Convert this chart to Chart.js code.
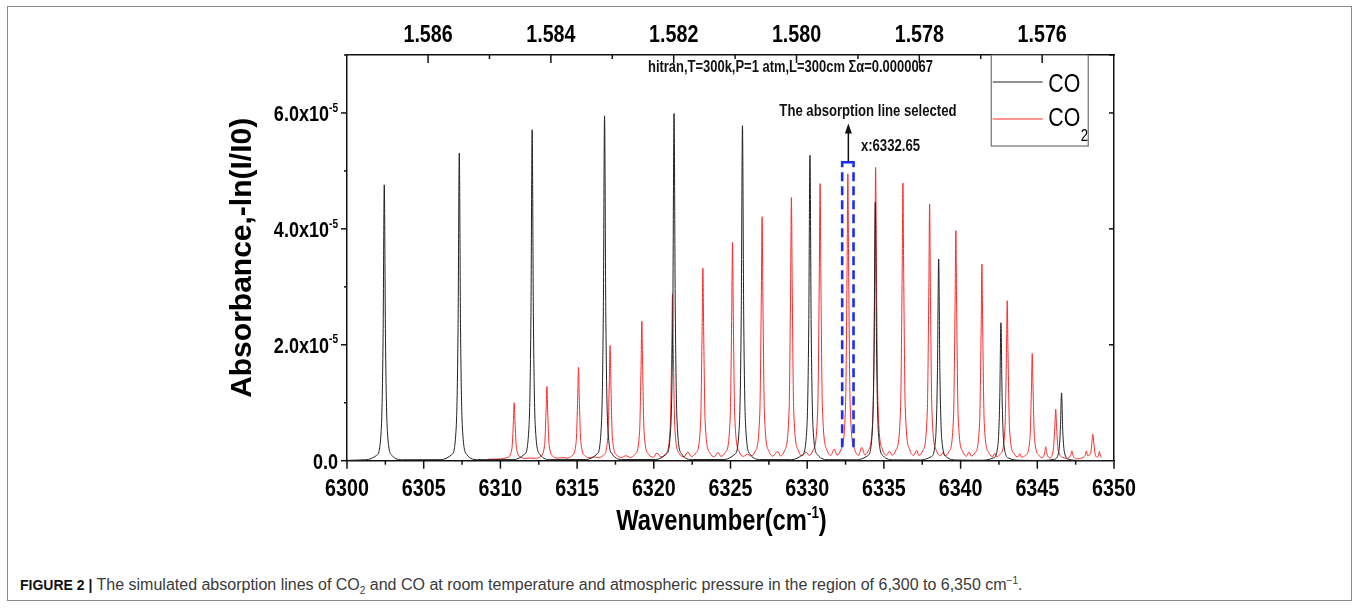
<!DOCTYPE html>
<html>
<head>
<meta charset="utf-8">
<title>Simulated absorption lines of CO2 and CO</title>
<script src="https://cdn.jsdelivr.net/npm/chart.js@4.4.0/dist/chart.umd.min.js"></script>
<style>
  html, body { margin: 0; padding: 0; background: #fff; }
  body { width: 1360px; height: 608px; position: relative; overflow: hidden; }
  #frame { position: absolute; left: 7px; top: 6px; width: 1345px; height: 595px;
           border: 1.5px solid #8a8a8a; box-sizing: border-box; }
  #c { position: absolute; left: 0; top: 0; }
  #caption { position: absolute; left: 20px; top: 576px; font: 16px "Liberation Sans", Arial, sans-serif;
             color: #3a3a3a; white-space: nowrap; }
  #caption b { color: #111; font-size: 14px; }
  #caption sub, #caption sup { font-size: 10px; line-height: 0; }
</style>
</head>
<body>
<div id="frame"></div>
<canvas id="c" width="1360" height="560"></canvas>
<div id="caption"><b>FIGURE 2 |</b> The simulated absorption lines of CO<sub>2</sub> and CO at room temperature and atmospheric pressure in the region of 6,300 to 6,350 cm<sup>−1</sup>.</div>
<script>
// ---- spectra: wavenumber (cm^-1) and absorbance (in units of 10^-6) ----

// CO lines (black)
const coWavenumber = [
  6300.00,
  6301.23, 6301.93, 6302.23, 6302.35, 6302.43, 6302.51, 6302.63, 6302.93, 6303.63,
  6306.12, 6306.82, 6307.12, 6307.24, 6307.32, 6307.40, 6307.52, 6307.82, 6308.52,
  6310.87, 6311.57, 6311.87, 6311.99, 6312.07, 6312.15, 6312.27, 6312.57, 6313.27,
  6315.59, 6316.29, 6316.59, 6316.71, 6316.79, 6316.87, 6316.99, 6317.29, 6317.99,
  6320.12, 6320.82, 6321.12, 6321.24, 6321.32, 6321.40, 6321.52, 6321.82, 6322.52,
  6324.58, 6325.28, 6325.58, 6325.70, 6325.78, 6325.86, 6325.98, 6326.28, 6326.98,
  6328.98, 6329.68, 6329.98, 6330.10, 6330.18, 6330.26, 6330.38, 6330.68, 6331.38,
  6333.24, 6333.94, 6334.24, 6334.36, 6334.44, 6334.52, 6334.64, 6334.94, 6335.64,
  6337.37, 6338.07, 6338.37, 6338.49, 6338.57, 6338.65, 6338.77, 6339.07, 6339.77,
  6341.43, 6342.13, 6342.43, 6342.55, 6342.63, 6342.71, 6342.83, 6343.13, 6343.83,
  6345.38, 6346.08, 6346.38, 6346.50, 6346.58, 6346.66, 6346.78, 6347.08, 6347.78,
  6349.20
];
const coAbsorbance = [
  0.05,
  0.16, 0.91, 5.2, 20.7, 47.6, 20.7, 5.2, 0.91, 0.16,
  0.18, 1.02, 5.8, 23.0, 53.1, 23.0, 5.8, 1.02, 0.18,
  0.19, 1.10, 6.2, 24.8, 57.1, 24.8, 6.2, 1.10, 0.19,
  0.20, 1.14, 6.5, 25.8, 59.5, 25.8, 6.5, 1.14, 0.20,
  0.20, 1.15, 6.5, 26.0, 59.9, 26.0, 6.5, 1.15, 0.20,
  0.20, 1.11, 6.3, 25.1, 57.8, 25.1, 6.3, 1.11, 0.20,
  0.18, 1.01, 5.7, 22.9, 52.7, 22.9, 5.7, 1.01, 0.18,
  0.15, 0.86, 4.9, 19.4, 44.6, 19.4, 4.9, 0.86, 0.15,
  0.12, 0.67, 3.8, 15.1, 34.8, 15.1, 3.8, 0.67, 0.12,
  0.08, 0.46, 2.6, 10.3, 23.8, 10.3, 2.6, 0.46, 0.08,
  0.04, 0.22, 1.3, 5.1, 11.7, 5.1, 1.3, 0.22, 0.04,
  0.03
];

// CO2 lines (red)
const co2Wavenumber = [
  6309.20, 6310.00,
  6310.45, 6310.75, 6310.85, 6310.90, 6310.95, 6311.05, 6311.35,
  6311.65, 6311.97, 6312.28,
  6312.58, 6312.88, 6312.98, 6313.03, 6313.08, 6313.18, 6313.48,
  6313.78, 6314.06, 6314.34,
  6314.64, 6314.94, 6315.04, 6315.09, 6315.14, 6315.24, 6315.54,
  6315.84, 6316.12, 6316.40,
  6316.70, 6317.00, 6317.10, 6317.15, 6317.20, 6317.30, 6317.60,
  6317.90, 6318.18, 6318.47,
  6318.77, 6319.07, 6319.17, 6319.22, 6319.27, 6319.37, 6319.67,
  6319.97, 6320.20, 6320.47,
  6320.77, 6321.07, 6321.17, 6321.22, 6321.27, 6321.37, 6321.67,
  6321.97, 6322.22, 6322.45,
  6322.75, 6323.05, 6323.15, 6323.20, 6323.25, 6323.35, 6323.65,
  6323.95, 6324.18, 6324.38,
  6324.68, 6324.98, 6325.08, 6325.13, 6325.18, 6325.28, 6325.58,
  6325.83, 6326.10, 6326.36,
  6326.61, 6326.91, 6327.01, 6327.06, 6327.11, 6327.21, 6327.51,
  6327.76, 6328.08, 6328.27,
  6328.52, 6328.82, 6328.92, 6328.97, 6329.02, 6329.12, 6329.42,
  6329.67, 6329.92, 6330.14,
  6330.39, 6330.69, 6330.79, 6330.84, 6330.89, 6330.99, 6331.29,
  6331.54, 6331.76, 6331.95,
  6332.20, 6332.50, 6332.60, 6332.65, 6332.70, 6332.80, 6333.10,
  6333.35, 6333.56, 6333.76,
  6334.01, 6334.31, 6334.41, 6334.46, 6334.51, 6334.61, 6334.91,
  6335.16, 6335.36, 6335.54,
  6335.79, 6336.09, 6336.19, 6336.24, 6336.29, 6336.39, 6336.69,
  6336.94, 6337.14, 6337.28,
  6337.53, 6337.83, 6337.93, 6337.98, 6338.03, 6338.13, 6338.43,
  6338.68, 6338.86, 6338.99,
  6339.24, 6339.54, 6339.64, 6339.69, 6339.74, 6339.84, 6340.14,
  6340.39, 6340.56, 6340.69,
  6340.94, 6341.24, 6341.34, 6341.39, 6341.44, 6341.54, 6341.84,
  6342.09, 6342.22, 6342.34,
  6342.59, 6342.89, 6342.99, 6343.04, 6343.09, 6343.19, 6343.49,
  6343.74, 6343.86, 6343.97,
  6344.22, 6344.52, 6344.62, 6344.67, 6344.72, 6344.82, 6345.12,
  6345.30, 6345.48, 6345.55, 6345.62, 6345.80,
  6346.05, 6346.15, 6346.20, 6346.25, 6346.35, 6346.65,
  6346.90, 6347.17, 6347.25, 6347.33, 6347.60, 6348.12, 6348.20, 6348.28,
  6348.47, 6348.57, 6348.62, 6348.67, 6348.77,
  6348.90, 6349.00, 6349.05, 6349.10, 6349.20
];
const co2Absorbance = [
  0.25, 0.30,
  0.54, 2.1, 6.9, 10.0, 6.9, 2.1, 0.54,
  0.40, 0.45, 0.40,
  0.66, 2.65, 8.8, 12.8, 8.8, 2.65, 0.66,
  0.45, 0.55, 0.45,
  0.79, 3.3, 11.0, 16.1, 11.0, 3.3, 0.79,
  0.50, 0.65, 0.50,
  0.93, 4.0, 13.6, 19.9, 13.6, 4.0, 0.93,
  0.55, 0.85, 0.55,
  1.08, 4.8, 16.4, 24.1, 16.4, 4.8, 1.08,
  0.60, 1.30, 0.65,
  1.19, 5.7, 19.5, 28.8, 19.5, 5.7, 1.19,
  0.65, 1.50, 0.70,
  1.35, 6.5, 22.5, 33.2, 22.5, 6.5, 1.35,
  0.70, 1.40, 0.75,
  1.50, 7.4, 25.5, 37.7, 25.5, 7.4, 1.50,
  0.75, 1.10, 0.80,
  1.60, 8.2, 28.4, 42.1, 28.4, 8.2, 1.60,
  0.80, 1.60, 0.80,
  1.74, 8.8, 30.6, 45.4, 30.6, 8.8, 1.74,
  0.85, 1.50, 0.90,
  1.85, 9.3, 32.2, 47.8, 32.2, 9.3, 1.85,
  0.90, 2.00, 0.95,
  1.90, 9.6, 33.4, 49.5, 33.4, 9.6, 1.90,
  0.95, 2.30, 1.00,
  1.90, 9.8, 34.1, 50.6, 34.1, 9.8, 1.90,
  0.95, 1.60, 0.95,
  1.85, 9.3, 32.3, 47.9, 32.3, 9.3, 1.85,
  0.90, 1.80, 0.90,
  1.70, 8.6, 29.9, 44.3, 29.9, 8.6, 1.70,
  0.85, 1.40, 0.85,
  1.55, 7.7, 26.8, 39.7, 26.8, 7.7, 1.55,
  0.80, 1.50, 0.80,
  1.36, 6.6, 22.9, 33.9, 22.9, 6.6, 1.36,
  0.70, 1.30, 0.70,
  1.16, 5.5, 18.7, 27.6, 18.7, 5.5, 1.16,
  0.65, 1.20, 0.60,
  0.90, 3.8, 12.7, 18.5, 12.7, 3.8, 0.90,
  0.50, 1.30, 2.40, 1.30, 0.50,
  2.0, 6.3, 8.9, 6.3, 2.0, 0.60,
  0.40, 0.90, 1.70, 0.90, 0.35, 0.90, 1.70, 0.90,
  1.2, 3.4, 4.6, 3.4, 1.2,
  0.60, 1.00, 1.60, 1.00, 0.50
];

// axis ranges and tick labels
const wavenumberRange = [6300, 6350];
const wavelengthRange = [1.57483, 1.58732];      // µm, top axis (runs right to left)
const wavelengthLabels = ['1.586', '1.584', '1.582', '1.580', '1.578', '1.576'];
const absorbanceRange = [0, 70];                  // ×10^-6
const absorbanceLabels = { 0: '0.0', 20: '2.0x10⁻⁵', 40: '4.0x10⁻⁵', 60: '6.0x10⁻⁵' };
const selectedLine = 6332.65;

const BASE = '"Liberation Sans", Arial, sans-serif';
const SQUEEZE = 0.82;   // Arial Narrow is Arial at ~82 % width

const toPoints = (xs, ys) => xs.map((x, i) => ({ x, y: ys[i] }));

// text with Unicode superscripts drawn as small raised runs, horizontally condensed
const SUP = { '⁻': '-', '⁰': '0', '¹': '1', '²': '2', '³': '3', '⁴': '4', '⁵': '5', '⁶': '6', '⁷': '7', '⁸': '8', '⁹': '9' };
function textRuns(text) {
  const out = [];
  for (const ch of text) {
    const sup = ch in SUP;
    const c = sup ? SUP[ch] : ch;
    const last = out[out.length - 1];
    if (last && last.sup === sup) last.t += c; else out.push({ t: c, sup });
  }
  return out;
}
function narrowText(ctx, text, x, y, size, align = 'left', weight = 'bold') {
  const runs = textRuns(text);
  const fontFor = r => `${weight} ${r.sup ? size * 0.56 : size}px ${BASE}`;
  let w = 0;
  runs.forEach(r => { ctx.font = fontFor(r); r.w = ctx.measureText(r.t).width; w += r.w; });
  let cx = align === 'center' ? -w / 2 : align === 'right' ? -w : 0;
  ctx.save();
  ctx.translate(x, y);
  ctx.scale(SQUEEZE, 1);
  ctx.textAlign = 'left';
  ctx.textBaseline = 'alphabetic';
  runs.forEach(r => {
    ctx.font = fontFor(r);
    ctx.fillText(r.t, cx, r.sup ? -size * 0.42 : 0);
    cx += r.w;
  });
  ctx.restore();
}

const xLabel = v => (v % 5 === 0 ? String(v) : '');
const topLabel = v => { const s = v.toFixed(3); return wavelengthLabels.includes(s) ? s : ''; };
const yLabel = v => absorbanceLabels[v] || '';

// tick marks (outward on bottom/left, inward on top/right) and condensed tick labels
const axisDecor = {
  id: 'axisDecor',
  afterDraw(chart) {
    const { ctx, scales, chartArea: a } = chart;
    ctx.save();
    ctx.strokeStyle = '#111';
    ctx.fillStyle = '#000';
    ctx.lineWidth = 1.5;
    const seg = (x1, y1, x2, y2) => { ctx.beginPath(); ctx.moveTo(x1, y1); ctx.lineTo(x2, y2); ctx.stroke(); };

    scales.x.ticks.forEach(t => {
      const px = scales.x.getPixelForValue(t.value);
      const lab = t.label ?? xLabel(t.value);
      seg(px, a.bottom, px, a.bottom + (lab ? 8 : 4));
      if (lab) narrowText(ctx, String(lab), px, a.bottom + 35.5, 24, 'center');
    });
    scales.xTop.ticks.forEach(t => {
      const px = scales.xTop.getPixelForValue(t.value);
      const lab = t.label ?? topLabel(t.value);
      seg(px, a.top, px, a.top + (lab || Math.round(t.value * 1000) % 2 === 0 ? 8 : 4));
      if (lab) narrowText(ctx, String(lab), px, a.top - 13.5, 24, 'center');
    });
    scales.y.ticks.forEach(t => {
      const py = scales.y.getPixelForValue(t.value);
      const lab = t.label ?? yLabel(t.value);
      seg(a.left - (t.value % 20 === 0 ? 6 : 3), py, a.left, py);
      if (lab) narrowText(ctx, String(lab), a.left - 9, py + 7.9, 22, 'right');
    });
    scales.yRight.ticks.forEach(t => {
      if (t.value === 0) return;
      const py = scales.yRight.getPixelForValue(t.value);
      seg(a.right - 5, py, a.right, py);
    });

    // bottom axis title, condensed
    const tt = scales.x.options.title;
    narrowText(ctx, tt.text, (a.left + a.right) / 2 - 9, a.bottom + 69.5, 29, 'center');
    ctx.restore();
  }
};

// legend box in the upper right corner of the plot
const legendBox = {
  id: 'legendBox',
  afterDatasetsDraw(chart) {
    const { ctx, chartArea: a } = chart;
    const x0 = a.right - 123.3, y0 = a.top, w = 97, h = 91;
    ctx.save();
    ctx.fillStyle = '#fff';
    ctx.fillRect(x0, y0, w, h);
    ctx.strokeStyle = '#555';
    ctx.lineWidth = 1;
    ctx.strokeRect(x0 + 0.5, y0, w, h);
    chart.data.datasets.forEach((ds, i) => {
      const cy = y0 + 27 + i * 37;
      ctx.strokeStyle = ds.borderColor;
      ctx.lineWidth = 1.2;
      ctx.beginPath(); ctx.moveTo(x0 + 2, cy); ctx.lineTo(x0 + 52, cy); ctx.stroke();
      const m = ds.label.match(/^(\D+)(\d*)$/);
      const base = y0 + 36.7 + i * 34;
      ctx.fillStyle = '#000';
      narrowText(ctx, m[1], x0 + 57.6, base, 26, 'left', 'normal');
      if (m[2]) {
        ctx.font = `normal 26px ${BASE}`;
        const tw = ctx.measureText(m[1]).width * SQUEEZE;
        narrowText(ctx, m[2], x0 + 57.6 + tw + 0.5, base + 15, 16, 'left', 'normal');
      }
    });
    ctx.restore();
  }
};

// conditions text, selected-line box, arrow and labels
const annotations = {
  id: 'annotations',
  afterDatasetsDraw(chart) {
    const { ctx, scales } = chart;
    const X = v => scales.x.getPixelForValue(v);
    const Y = v => scales.y.getPixelForValue(v);
    ctx.save();
    ctx.fillStyle = '#111';
    narrowText(ctx, 'hitran,T=300k,P=1 atm,L=300cm Σα=0.0000067', X(6319.62), Y(67.0), 15.8, 'left');

    // dashed box round the selected line
    const xl = X(selectedLine - 0.37), xr = X(selectedLine + 0.37);
    const yt = Y(51.5), yb = Y(2.0);
    ctx.strokeStyle = '#1a2ff0';
    ctx.lineWidth = 2.6;
    ctx.setLineDash([]);
    ctx.beginPath();
    ctx.moveTo(xl, yt + 5); ctx.lineTo(xl, yt); ctx.lineTo(xr, yt); ctx.lineTo(xr, yt + 5);
    ctx.stroke();
    ctx.setLineDash([9, 5]);
    ctx.beginPath(); ctx.moveTo(xl, yt + 10); ctx.lineTo(xl, yb); ctx.stroke();
    ctx.beginPath(); ctx.moveTo(xr, yt + 10); ctx.lineTo(xr, yb); ctx.stroke();
    ctx.setLineDash([]);

    // arrow pointing up from the box
    const xa = X(selectedLine) + 0.5, ya = Y(58.2);
    ctx.strokeStyle = '#111';
    ctx.lineWidth = 1.5;
    ctx.beginPath(); ctx.moveTo(xa, yt - 1); ctx.lineTo(xa, ya + 6); ctx.stroke();
    ctx.beginPath();
    ctx.moveTo(xa, ya); ctx.lineTo(xa - 3.5, ya + 10); ctx.lineTo(xa + 3.5, ya + 10); ctx.closePath();
    ctx.fill();

    narrowText(ctx, 'The absorption line selected', X(6333.96), Y(59.5), 16, 'center');
    narrowText(ctx, 'x:' + selectedLine.toFixed(2), X(6333.5), Y(53.4), 16, 'left');
    ctx.restore();
  }
};

const chart = new Chart(document.getElementById('c'), {
  type: 'line',
  data: {
    datasets: [
      { label: 'CO', data: toPoints(coWavenumber, coAbsorbance), borderColor: '#222222',
        borderWidth: 1, pointRadius: 0, cubicInterpolationMode: 'monotone', xAxisID: 'x', yAxisID: 'y' },
      { label: 'CO2', data: toPoints(co2Wavenumber, co2Absorbance), borderColor: '#ff2a2a',
        borderWidth: 1, pointRadius: 0, cubicInterpolationMode: 'monotone', xAxisID: 'x', yAxisID: 'y' }
    ]
  },
  options: {
    responsive: false,
    animation: false,
    events: [],
    layout: { padding: 0 },
    plugins: { legend: { display: false }, tooltip: { enabled: false } },
    scales: {
      x: {
        type: 'linear', position: 'bottom',
        min: wavenumberRange[0], max: wavenumberRange[1],
        grid: { display: false, drawTicks: false },
        border: { display: true, color: '#111', width: 1.5 },
        ticks: { display: false, stepSize: 2.5, autoSkip: false, callback: xLabel },
        title: { display: false, text: 'Wavenumber(cm⁻¹)' },
        afterFit: s => { s.height = 99.3; }
      },
      xTop: {
        type: 'linear', position: 'top', reverse: true,
        min: wavelengthRange[0], max: wavelengthRange[1],
        grid: { display: false, drawTicks: false },
        border: { display: true, color: '#111', width: 1.5 },
        ticks: { display: false, stepSize: 0.001, autoSkip: false, callback: topLabel },
        afterBuildTicks: s => {
          s.ticks = s.ticks.filter(t => Math.abs(t.value * 1000 - Math.round(t.value * 1000)) < 1e-6);
        },
        afterFit: s => { s.height = 55; }
      },
      y: {
        type: 'linear', position: 'left',
        min: absorbanceRange[0], max: absorbanceRange[1],
        grid: { display: false, drawTicks: false },
        border: { display: true, color: '#111', width: 1.5 },
        ticks: { display: false, stepSize: 10, autoSkip: false, callback: yLabel },
        title: {
          display: true, text: 'Absorbance,-ln(I/I0)', color: '#000',
          font: { family: BASE, size: 30, weight: 'bold' },
          padding: { top: 225, bottom: 0 }
        },
        afterFit: s => { s.width = 347; }
      },
      yRight: {
        type: 'linear', position: 'right',
        min: absorbanceRange[0], max: absorbanceRange[1],
        grid: { display: false, drawTicks: false },
        border: { display: true, color: '#111', width: 1.5 },
        ticks: { display: false, stepSize: 20 },
        afterFit: s => { s.width = 246; }
      }
    }
  },
  plugins: [axisDecor, legendBox, annotations]
});
</script>
</body>
</html>
